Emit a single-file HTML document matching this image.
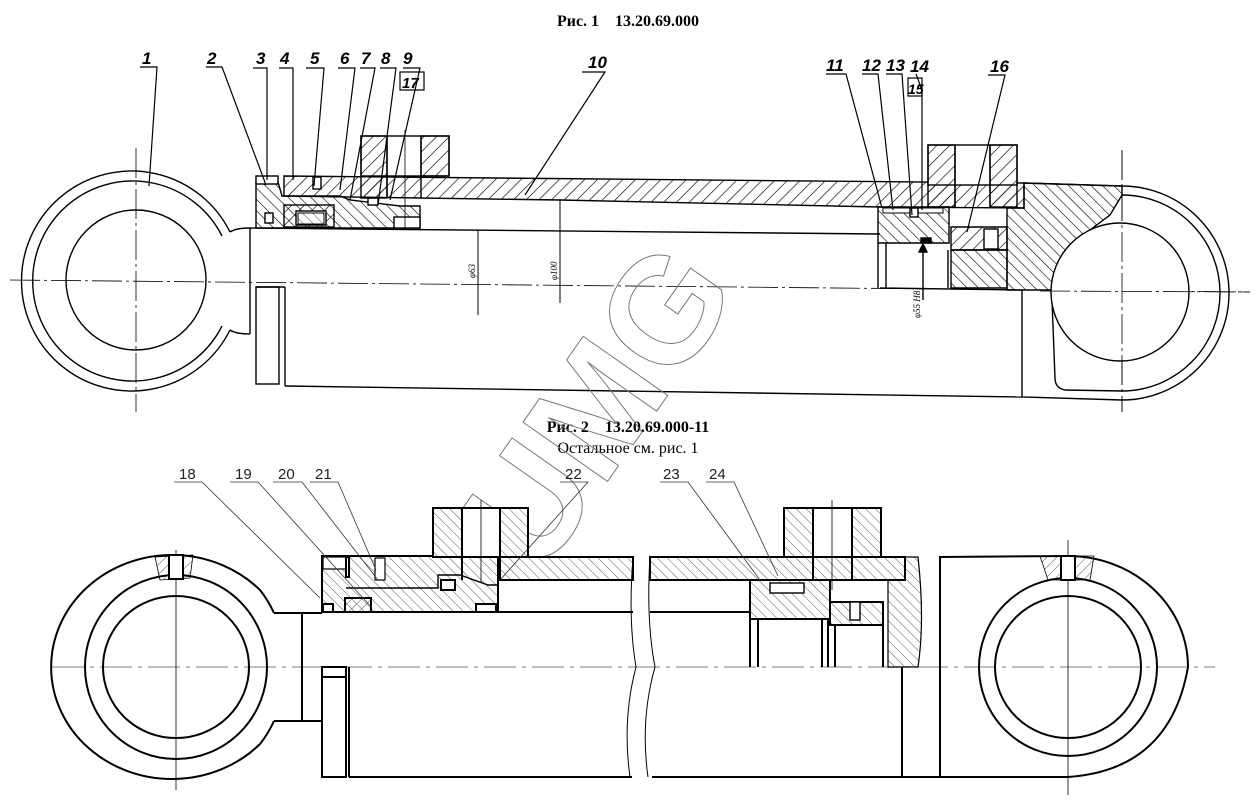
<!DOCTYPE html>
<html><head><meta charset="utf-8">
<style>
html,body{margin:0;padding:0;background:#fff;}
svg{display:block;}
.t{font-family:"Liberation Serif",serif;fill:#000;}
.lb{font-family:"Liberation Sans",sans-serif;font-style:italic;font-weight:bold;font-size:17px;fill:#000;}
.lb2{font-family:"Liberation Sans",sans-serif;font-size:15px;fill:#222;}
</style></head><body>
<svg width="1256" height="808" viewBox="0 0 1256 808" xmlns="http://www.w3.org/2000/svg">
<defs>
<pattern id="h1" patternUnits="userSpaceOnUse" width="9" height="9" patternTransform="rotate(45)">
<line x1="0" y1="0" x2="0" y2="9" stroke="#000" stroke-width="1.3"/></pattern>
<pattern id="h1b" patternUnits="userSpaceOnUse" width="8" height="8" patternTransform="rotate(-45)">
<line x1="0" y1="0" x2="0" y2="8" stroke="#000" stroke-width="1.2"/></pattern>
<pattern id="h2" patternUnits="userSpaceOnUse" width="7" height="7" patternTransform="rotate(-45)">
<line x1="0" y1="0" x2="0" y2="7" stroke="#333" stroke-width="0.8"/></pattern>
<pattern id="h2b" patternUnits="userSpaceOnUse" width="7" height="7" patternTransform="rotate(45)">
<line x1="0" y1="0" x2="0" y2="7" stroke="#333" stroke-width="0.8"/></pattern>
</defs>

<text class="t" x="628" y="26" text-anchor="middle" font-size="16" font-weight="bold">Рис. 1&#160;&#160;&#160;&#160;13.20.69.000</text>
<text class="t" x="628" y="432" text-anchor="middle" font-size="16" font-weight="bold">Рис. 2&#160;&#160;&#160;&#160;13.20.69.000-11</text>
<text class="t" x="628" y="453" text-anchor="middle" font-size="16">Остальное см. рис. 1</text>

<g fill="none" stroke="#000" stroke-width="1.4">
<line x1="10" y1="280" x2="1250" y2="292" stroke-width="0.8" stroke-dasharray="30,4,3,4"/>
<line x1="136" y1="148" x2="136" y2="412" stroke-width="0.8" stroke-dasharray="30,4,3,4"/>
<line x1="1122" y1="150" x2="1122" y2="412" stroke-width="0.8" stroke-dasharray="30,4,3,4"/>
<path d="M230,232 A110,110 0 1 0 230,330"/>
<path d="M222,236 A100,100 0 1 0 222,326"/>
<path d="M230,232 Q236,228 250,228 M230,330 Q236,334 250,334"/>
<circle cx="136" cy="280" r="70"/>
<line x1="250" y1="228" x2="880" y2="234"/>
<line x1="250" y1="228" x2="250" y2="334"/>
<rect x="256" y="287" width="23" height="97"/>
<line x1="285" y1="287" x2="285" y2="386"/>
<line x1="285" y1="386" x2="1022" y2="397"/>
<line x1="256" y1="287" x2="285" y2="287"/>
<polygon points="284,176 1024,183 1024,208 880,207 560,200 420,198 284,196" fill="url(#h1)"/>
<polygon points="256,182 278,182 282,196 340,196 350,200 400,206 420,206 420,228 256,228" fill="url(#h1b)"/>
<rect x="284" y="205" width="50" height="22" fill="url(#h1)"/>
<rect x="296" y="211" width="30" height="14" fill="#fff"/>
<path d="M298,213 L324,213 L324,224 L298,224 Z" fill="url(#h2)" stroke-width="1"/>
<rect x="265" y="213" width="8" height="10" fill="#fff"/>
<rect x="368" y="198" width="10" height="7" fill="#fff"/>
<rect x="313" y="177" width="8" height="12" fill="#fff"/>
<rect x="394" y="217" width="26" height="11" fill="#fff"/>
<rect x="256" y="176" width="22" height="8" fill="#fff"/>
<rect x="361" y="136" width="88" height="40" fill="#fff"/>
<rect x="361" y="136" width="26" height="62" fill="url(#h1)"/>
<rect x="421" y="136" width="28" height="40" fill="url(#h1)"/>
<line x1="387" y1="136" x2="387" y2="198"/><line x1="421" y1="136" x2="421" y2="198"/>
<line x1="405" y1="130" x2="405" y2="230" stroke-width="0.8"/>
<line x1="478" y1="230" x2="478" y2="315" stroke-width="1"/>
<line x1="560" y1="199" x2="560" y2="303" stroke-width="1"/>
<rect x="928" y="145" width="89" height="40" fill="#fff"/>
<rect x="928" y="145" width="27" height="62" fill="url(#h1)"/>
<rect x="990" y="145" width="27" height="62" fill="url(#h1)"/>
<line x1="955" y1="145" x2="955" y2="207"/><line x1="990" y1="145" x2="990" y2="207"/>
<polygon points="878,207 949,207 949,243 878,243" fill="url(#h1b)"/>
<rect x="883" y="208" width="60" height="5" fill="#fff" stroke-width="1"/>
<rect x="910" y="208" width="8" height="9" fill="#fff"/>
<rect x="921" y="238" width="10" height="5" fill="#000"/>
<line x1="878" y1="243" x2="878" y2="288"/><line x1="886" y1="243" x2="886" y2="288"/>
<line x1="923" y1="300" x2="923" y2="245"/>
<path d="M919,252 L923,244 L927,252 Z" fill="#000"/>
<line x1="948" y1="250" x2="948" y2="288"/>
<polygon points="951,227 1007,227 1007,250 951,250" fill="url(#h1)"/>
<rect x="984" y="229" width="14" height="20" fill="#fff"/>
<polygon points="951,250 1007,250 1007,288 951,288" fill="url(#h1b)"/>
<line x1="880" y1="288" x2="1022" y2="290"/>
<path d="M1024,183 L1122,186 A107,107 0 0 1 1122,400 L1022,397 L1022,290" fill="none"/>
<path d="M1122,195 A98,98 0 0 1 1122,391 L1065,390 Q1055,388 1055,378 L1052,300"/>
<polygon points="1007,208 1024,208 1024,183 1122,186 1122,195 1110,215 1070,245 1052,290 1007,290" fill="url(#h1b)"/>
<circle cx="1120" cy="292" r="69" fill="#fff"/>
<line x1="1122" y1="150" x2="1122" y2="412" stroke-width="0.8" stroke-dasharray="30,4,3,4"/>
<line x1="1040" y1="291" x2="1250" y2="292" stroke-width="0.8" stroke-dasharray="30,4,3,4"/>
</g>
<g class="t" font-size="9" font-style="italic">
<text transform="translate(475,278) rotate(-90)">φ63</text>
<text transform="translate(557,280) rotate(-90)">φ100</text>
<text transform="translate(920,318) rotate(-90)">φ55 H8</text>
</g>
<g stroke="#000" stroke-width="1.2" fill="none">
<path d="M140,67 H157 L149,186"/>
<path d="M206,67 H222 L266,185"/>
<path d="M253,68 H267 L267,180"/>
<path d="M279,68 H293 L293,180"/>
<path d="M306,68 H324 L314,186"/>
<path d="M338,68 H355 L340,190"/>
<path d="M360,68 H375 L350,200"/>
<path d="M380,68 H396 L378,205"/>
<path d="M403,68 H420 L390,200"/>
<path d="M582,72 H605 L525,195"/>
<path d="M826,74 H846 L882,208"/>
<path d="M862,74 H878 L893,210"/>
<path d="M886,74 H902 L912,215"/>
<path d="M916,74 L922,90 L922,210"/>
<path d="M988,75 H1005 L967,232"/>
<rect x="400" y="72" width="24" height="18"/>
<rect x="908" y="78" width="14" height="18"/>
</g>
<g class="lb">
<text x="142" y="64">1</text><text x="207" y="64">2</text><text x="256" y="64">3</text>
<text x="280" y="64">4</text><text x="310" y="64">5</text><text x="340" y="64">6</text>
<text x="361" y="64">7</text><text x="381" y="64">8</text><text x="403" y="64">9</text>
<text x="402" y="88" font-size="15">17</text><text x="588" y="68">10</text>
<text x="826" y="71">11</text><text x="862" y="71">12</text><text x="886" y="71">13</text>
<text x="910" y="72">14</text><text x="908" y="94" font-size="14">15</text><text x="990" y="72">16</text>
</g>

<text x="0" y="0" transform="translate(640,435) rotate(-55)" font-family="Liberation Sans,sans-serif" font-weight="bold" font-size="150" fill="none" stroke="#777" stroke-width="1" text-anchor="middle">UMG</text>

<g fill="none" stroke="#000" stroke-width="2">
<line x1="52" y1="667" x2="1215" y2="667" stroke="#999" stroke-width="1.2" stroke-dasharray="32,6,4,6"/>
<line x1="176" y1="550" x2="176" y2="790" stroke-width="0.8"/>
<line x1="1068" y1="540" x2="1068" y2="795" stroke-width="0.8"/>
<path d="M274,613 Q268,600 260,590 A121,112 0 1 0 260,744 Q268,734 274,721"/>
<ellipse cx="176" cy="667" rx="91" ry="92"/>
<ellipse cx="176" cy="667" rx="73" ry="71"/>
<polygon points="155,557 193,555 190,578 160,580" fill="url(#h2b)" stroke-width="0.8"/>
<rect x="169" y="555" width="14" height="24" fill="#fff"/>
<line x1="274" y1="613" x2="322" y2="613"/>
<line x1="302" y1="613" x2="302" y2="721"/>
<line x1="274" y1="721" x2="322" y2="721"/>
<line x1="322" y1="612" x2="633" y2="612"/>
<polygon points="322,556 498,556 498,612 322,612" fill="url(#h2)"/>
<rect x="323" y="557" width="24" height="12" fill="#fff" stroke-width="1.2"/>
<rect x="346" y="557" width="3" height="20" fill="#fff"/>
<rect x="345" y="598" width="26" height="14" fill="url(#h2b)"/>
<rect x="323" y="604" width="10" height="8" fill="#fff"/>
<rect x="476" y="604" width="20" height="8" fill="#fff"/>
<rect x="441" y="580" width="14" height="10" fill="#fff"/>
<rect x="375" y="558" width="10" height="22" fill="#fff" stroke-width="1.2"/>
<polyline points="346,588 438,588 438,575 460,575 488,585 498,585" stroke-width="1.4"/>
<polygon points="498,557 633,557 633,580 498,580" fill="url(#h2)"/>
<rect x="433" y="508" width="95" height="49" fill="#fff"/>
<rect x="433" y="508" width="29" height="49" fill="url(#h2)"/>
<rect x="500" y="508" width="28" height="49" fill="url(#h2)"/>
<line x1="462" y1="508" x2="462" y2="580"/><line x1="500" y1="508" x2="500" y2="580"/>
<line x1="481" y1="500" x2="481" y2="582" stroke-width="0.8"/>
<rect x="322" y="667" width="24" height="110"/>
<line x1="322" y1="677" x2="346" y2="677"/>
<line x1="349" y1="667" x2="349" y2="777"/>
<line x1="349" y1="777" x2="632" y2="777"/>
<path d="M633,557 Q628,620 636,667 Q622,720 630,777" stroke-width="1"/>
<path d="M650,557 Q646,620 655,667 Q640,720 648,777" stroke-width="1"/>
<polygon points="650,557 905,557 905,580 650,580" fill="url(#h2)"/>
<line x1="650" y1="612" x2="750" y2="612"/>
<rect x="784" y="508" width="97" height="49" fill="#fff"/>
<rect x="784" y="508" width="29" height="49" fill="url(#h2)"/>
<rect x="852" y="508" width="29" height="49" fill="url(#h2)"/>
<line x1="813" y1="508" x2="813" y2="580"/><line x1="852" y1="508" x2="852" y2="580"/>
<line x1="832" y1="500" x2="832" y2="590" stroke-width="0.8"/>
<rect x="750" y="580" width="80" height="39" fill="url(#h2)"/>
<rect x="770" y="583" width="34" height="10" fill="#fff" stroke-width="1.4"/>
<line x1="750" y1="619" x2="750" y2="667"/><line x1="758" y1="619" x2="758" y2="667"/>
<line x1="822" y1="619" x2="822" y2="667"/><line x1="828" y1="619" x2="828" y2="667"/>
<rect x="830" y="602" width="53" height="23" fill="url(#h2)"/>
<rect x="850" y="602" width="10" height="18" fill="#fff" stroke-width="1.4"/>
<line x1="835" y1="625" x2="835" y2="667"/><line x1="883" y1="625" x2="883" y2="667"/>
<path d="M888,580 L888,667 L918,667 Q925,620 918,557 L905,557 L905,580 Z" fill="url(#h2)" stroke-width="1.2"/>
<line x1="902" y1="667" x2="902" y2="777"/>
<line x1="652" y1="777" x2="940" y2="777"/>
<path d="M940,557 L940,777 L1068,777 Q1170,770 1188,667 A120,111 0 0 0 1068,556 Z"/>
<ellipse cx="1068" cy="667" rx="89" ry="89"/>
<ellipse cx="1068" cy="667" rx="73" ry="71"/>
<polygon points="1040,556 1094,556 1090,580 1048,580" fill="url(#h2b)" stroke-width="0.8"/>
<rect x="1061" y="556" width="14" height="24" fill="#fff"/>
</g>
<g stroke="#333" stroke-width="0.8" fill="none">
<path d="M174,482 H202 L320,598"/>
<path d="M230,482 H258 L372,608"/>
<path d="M273,482 H302 L378,580"/>
<path d="M310,482 H338 L376,570"/>
<path d="M560,482 H588 L500,580"/>
<path d="M660,482 H688 L760,580"/>
<path d="M706,482 H734 L778,576"/>
</g>
<g class="lb2">
<text x="179" y="479">18</text><text x="235" y="479">19</text><text x="278" y="479">20</text>
<text x="315" y="479">21</text><text x="565" y="479">22</text><text x="663" y="479">23</text><text x="709" y="479">24</text>
</g>
</svg>
</body></html>
